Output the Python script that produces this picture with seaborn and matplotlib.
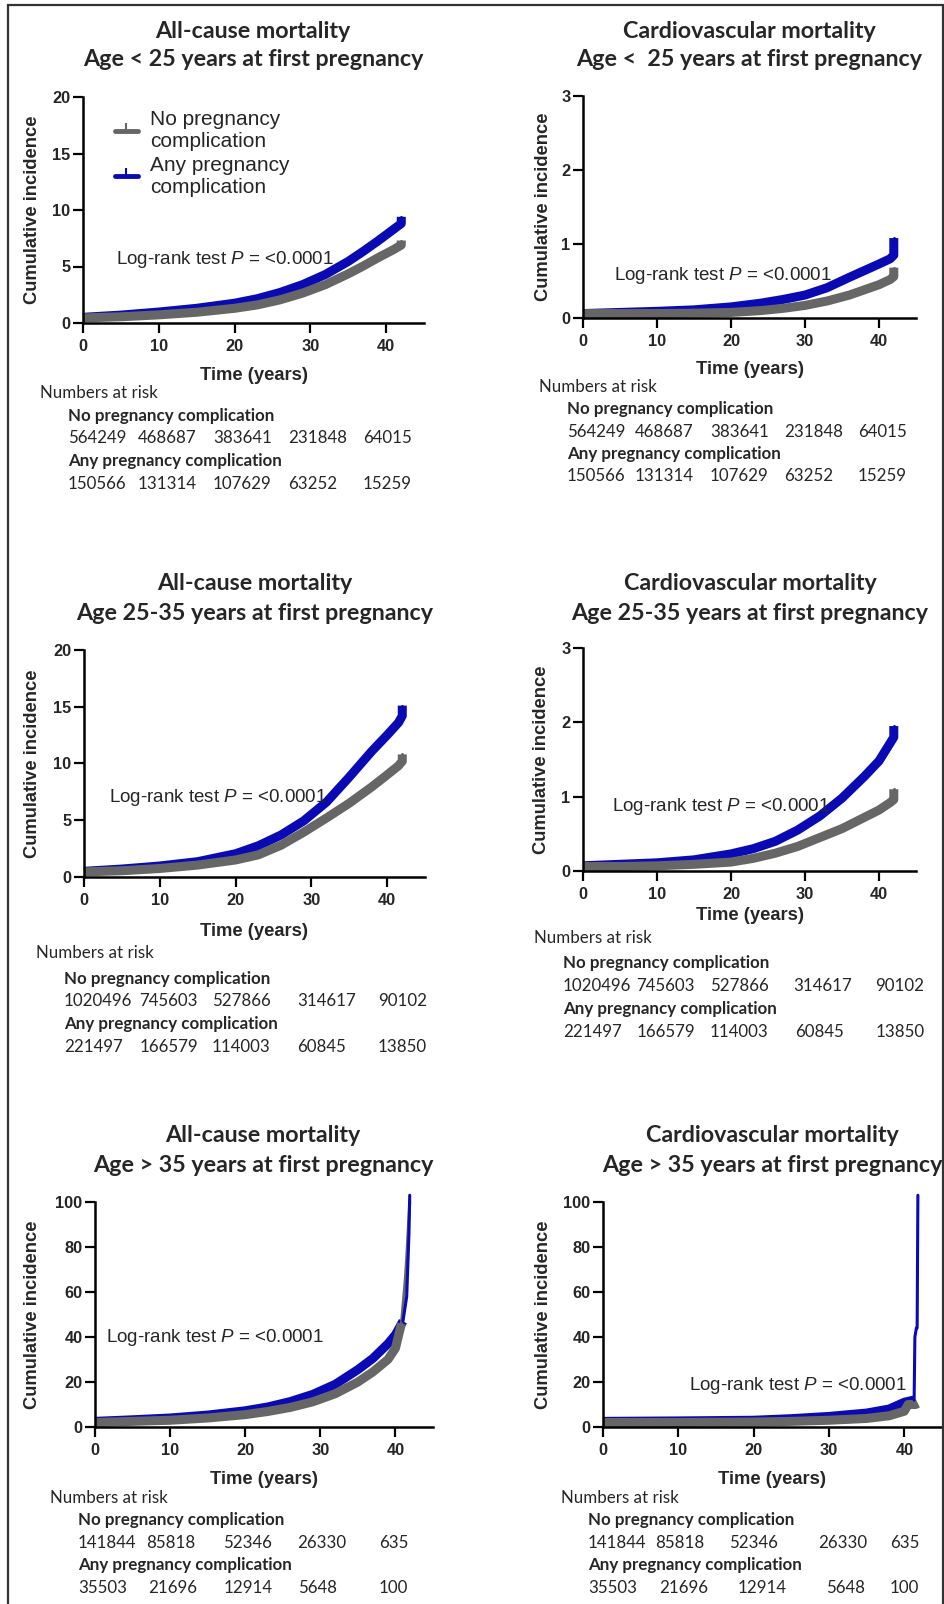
import numpy as np
import pandas as pd
import matplotlib
matplotlib.use("Agg")
import matplotlib.pyplot as plt
import seaborn as sns
from matplotlib.lines import Line2D
from matplotlib.patches import Rectangle

# ---------------- data ----------------
groups = ["No pregnancy complication", "Any pregnancy complication"]
legend_labels = ["No pregnancy\ncomplication", "Any pregnancy\ncomplication"]
x_ticks = [0, 10, 20, 30, 40]

# Panel 1: all-cause mortality, age < 25
p1_time_no = [0, 5, 10, 15, 20, 23, 26, 29, 32, 35, 37, 39, 41, 42, 42]
p1_no = [0.45, 0.55, 0.72, 0.95, 1.3, 1.6, 2.05, 2.65, 3.4, 4.35, 5.05, 5.8, 6.5, 6.9, 7.3]
p1_time_any = [0, 5, 10, 15, 20, 23, 26, 29, 32, 35, 37, 39, 41, 42, 42]
p1_any = [0.5, 0.7, 0.97, 1.3, 1.75, 2.15, 2.7, 3.4, 4.3, 5.45, 6.35, 7.3, 8.3, 8.8, 9.4]

# Panel 2: cardiovascular mortality, age < 25
p2_time_no = [0, 10, 15, 20, 24, 27, 30, 33, 36, 38, 40, 41.5, 42, 42]
p2_no = [0.06, 0.06, 0.065, 0.075, 0.1, 0.13, 0.17, 0.23, 0.31, 0.38, 0.45, 0.52, 0.56, 0.68]
p2_time_any = [0, 10, 15, 20, 24, 27, 30, 33, 36, 38, 40, 41.5, 42, 42]
p2_any = [0.06, 0.09, 0.11, 0.15, 0.2, 0.25, 0.31, 0.41, 0.55, 0.64, 0.73, 0.8, 0.85, 1.08]

# Panel 3: all-cause mortality, age 25-35
p3_time_no = [0, 5, 10, 15, 20, 23, 26, 29, 32, 35, 38, 40, 41.5, 42, 42]
p3_no = [0.45, 0.55, 0.75, 1.05, 1.5, 1.95, 2.8, 3.95, 5.2, 6.5, 7.95, 9.0, 9.8, 10.2, 10.8]
p3_time_any = [0, 5, 10, 15, 20, 23, 26, 29, 32, 35, 38, 40, 41.5, 42, 42]
p3_any = [0.5, 0.7, 0.97, 1.35, 2.05, 2.75, 3.7, 4.95, 6.6, 8.8, 11.1, 12.5, 13.6, 14.2, 15.1]

# Panel 4: cardiovascular mortality, age 25-35
p4_time_no = [0, 5, 10, 15, 20, 23, 26, 29, 32, 35, 38, 40, 41.5, 42, 42]
p4_no = [0.06, 0.06, 0.07, 0.09, 0.12, 0.17, 0.24, 0.33, 0.45, 0.57, 0.72, 0.82, 0.92, 0.96, 1.1]
p4_time_any = [0, 5, 10, 15, 20, 23, 26, 29, 32, 35, 38, 40, 41.5, 42, 42]
p4_any = [0.07, 0.09, 0.11, 0.15, 0.23, 0.3, 0.4, 0.55, 0.74, 0.98, 1.27, 1.48, 1.72, 1.8, 1.95]

# Panel 5: all-cause mortality, age > 35
p5_time_no = [0, 5, 10, 15, 20, 23, 26, 29, 32, 35, 37, 39, 40, 40.8, 41.3, 41.5, 41.9]
p5_no = [2.0, 2.5, 3.0, 4.0, 5.5, 6.9, 8.7, 11.2, 14.8, 20, 24.5, 30, 35, 46, 65, 75, 100]
p5_time_any = [0, 5, 10, 15, 20, 23, 26, 29, 32, 35, 37, 39, 40, 41, 41.5, 41.8, 41.9]
p5_any = [2.5, 3.2, 4.0, 5.3, 7.2, 8.9, 11.3, 14.5, 19, 25.5, 30.5, 37, 41, 47, 58, 86, 103]

# Panel 6: cardiovascular mortality, age > 35
p6_time_no = [0, 10, 20, 25, 30, 35, 38, 40, 40.5, 41.5, 41.8]
p6_no = [2.0, 2.0, 2.2, 2.5, 3.0, 3.8, 5.0, 7.0, 10, 10, 10.5]
p6_time_any = [0, 10, 20, 25, 30, 35, 38, 40, 41.3, 41.4, 41.6, 41.7, 41.8]
p6_any = [2.5, 2.7, 3.0, 3.7, 4.7, 6.2, 8.0, 11, 12, 40, 44, 44, 103]

# numbers at risk
risk_lt25_no = ["564249", "468687", "383641", "231848", "64015"]
risk_lt25_any = ["150566", "131314", "107629", "63252", "15259"]
risk_2535_no = ["1020496", "745603", "527866", "314617", "90102"]
risk_2535_any = ["221497", "166579", "114003", "60845", "13850"]
risk_gt35_no = ["141844", "85818", "52346", "26330", "635"]
risk_gt35_any = ["35503", "21696", "12914", "5648", "100"]

titles = [
    ("All-cause mortality", "Age < 25 years at first pregnancy"),
    ("Cardiovascular mortality", "Age <  25 years at first pregnancy"),
    ("All-cause mortality", "Age 25-35 years at first pregnancy"),
    ("Cardiovascular mortality", "Age 25-35 years at first pregnancy"),
    ("All-cause mortality", "Age > 35 years at first pregnancy"),
    ("Cardiovascular mortality", "Age > 35 years at first pregnancy"),
]
y_tops = [20, 3, 20, 3, 100, 100]
y_tick_sets = [[0, 5, 10, 15, 20], [0, 1, 2, 3], [0, 5, 10, 15, 20], [0, 1, 2, 3],
               [0, 20, 40, 60, 80, 100], [0, 20, 40, 60, 80, 100]]
logrank_text = r"Log-rank test $\it{P}$ = <0.0001"

curves = [
    (p1_time_no, p1_no, p1_time_any, p1_any),
    (p2_time_no, p2_no, p2_time_any, p2_any),
    (p3_time_no, p3_no, p3_time_any, p3_any),
    (p4_time_no, p4_no, p4_time_any, p4_any),
    (p5_time_no, p5_no, p5_time_any, p5_any),
    (p6_time_no, p6_no, p6_time_any, p6_any),
]
risks = [
    (risk_lt25_no, risk_lt25_any), (risk_lt25_no, risk_lt25_any),
    (risk_2535_no, risk_2535_any), (risk_2535_no, risk_2535_any),
    (risk_gt35_no, risk_gt35_any), (risk_gt35_no, risk_gt35_any),
]

# ---------------- style / layout ----------------
sns.set_style("ticks")
plt.rcParams["font.family"] = ["Liberation Sans", "DejaVu Sans"]
plt.rcParams["mathtext.fontset"] = "custom"
plt.rcParams["mathtext.rm"] = "Liberation Sans"
plt.rcParams["mathtext.it"] = "Liberation Sans:italic"

GRAY = "#666666"
BLUE = "#0A0AB4"
palette = {groups[0]: GRAY, groups[1]: BLUE}
CAL = ["Lato", "DejaVu Sans"]

W, H = 944, 1604
fig = plt.figure(figsize=(W / 100, H / 100), dpi=100)
renderer = fig.canvas.get_renderer()


def fx(x):
    return x / W


def fy(y):
    return 1 - y / H


# axes pixel rects: x0, x1, ytop, ybottom
rects = [(83, 424, 97, 323), (583, 916, 96, 318), (84, 425, 650, 877),
         (583, 916, 648, 871), (95, 433, 1202, 1427), (603, 942, 1202, 1427)]
title_pos = [(253, 28, 57), (749, 28, 57), (255, 580, 610), (750, 580, 610),
             (263, 1133, 1163), (772, 1133, 1163)]
logrank_pos = [(116, 256, "left"), (614, 271, "left"), (109, 793, "left"),
               (612, 803, "left"), (106, 1333, "left"), (907, 1382, "right")]
xlabel_y = [372, 367, 929, 913, 1477, 1477]
ylabel_x = [33, 544, 33, 542, 33, 544]
band_end = [(42, 42), (42, 42), (42, 42), (42, 42), (40.8, 41.0), (41.8, 41.3)]
risk_layout = [
    (40, [68, 138, 213, 288, 363], [68, 138, 213, 288, 363], [391, 414, 436, 459, 482]),
    (539, [567, 635, 710, 784, 858], [567, 635, 710, 784, 858], [385, 407, 430, 452, 474]),
    (36, [64, 139, 212, 297, 378], [64, 140, 212, 297, 378], [951, 977, 999, 1022, 1045]),
    (534, [563, 636, 710, 793, 875], [563, 637, 710, 795, 876], [936, 961, 984, 1007, 1030]),
    (50, [78, 146, 223, 297, 379], [78, 148, 224, 298, 379], [1496, 1518, 1541, 1563, 1586]),
    (561, [588, 655, 729, 818, 890], [588, 659, 738, 826, 890], [1496, 1518, 1541, 1563, 1586]),
]
TXT_DY = 3  # visual centre correction for va="center"


def fitted_size(text, target_px, **kw):
    t = fig.text(0, 0, text, fontsize=10, **kw)
    w = t.get_window_extent(renderer).width
    t.remove()
    return 10 * target_px / w


title_fs = fitted_size("Age < 25 years at first pregnancy", 342, family=CAL, fontweight="bold")
risk_fs = 0.5 * (fitted_size("Numbers at risk", 123, family=CAL)
                 + fitted_size("564249", 56, family=CAL))

for i in range(6):
    x0, x1, yt, yb = rects[i]
    ax = fig.add_axes([fx(x0), fy(yb), fx(x1) - fx(x0), (yb - yt) / H])
    tn, vn, ta, va_ = curves[i]
    df = pd.DataFrame({
        "time": list(ta) + list(tn),
        "incidence": list(va_) + list(vn),
        "group": [groups[1]] * len(ta) + [groups[0]] * len(tn),
    })
    be_no, be_any = band_end[i]
    lim = df["group"].map({groups[0]: be_no, groups[1]: be_any})
    band = df[df["time"] <= lim]
    tail = df[df["time"] >= lim]
    sns.lineplot(data=band, x="time", y="incidence", hue="group", palette=palette,
                 hue_order=[groups[1], groups[0]], estimator=None, sort=False,
                 linewidth=6.5, legend=False, ax=ax, clip_on=False,
                 solid_capstyle="butt", solid_joinstyle="round")
    if tail.groupby("group").size().max() > 1:
        sns.lineplot(data=tail, x="time", y="incidence", hue="group", palette=palette,
                     hue_order=[groups[0], groups[1]], estimator=None, sort=False,
                     linewidth=2.2, legend=False, ax=ax, clip_on=False)

    ax.set_xlim(0, 45)
    ax.set_ylim(0, y_tops[i])
    ax.set_xticks(x_ticks)
    ax.set_yticks(y_tick_sets[i])
    ax.set_xticklabels([str(v) for v in x_ticks])
    ax.set_yticklabels([str(v) for v in y_tick_sets[i]])
    for side in ("top", "right"):
        ax.spines[side].set_visible(False)
    for side in ("left", "bottom"):
        ax.spines[side].set_linewidth(1.8)
        ax.spines[side].set_color("black")
    ax.tick_params(axis="both", direction="out", length=7, width=1.6, color="black",
                   labelsize=11.8)
    ax.tick_params(axis="x", pad=4.5)
    ax.tick_params(axis="y", pad=2)
    for lab in ax.get_xticklabels() + ax.get_yticklabels():
        lab.set_fontweight("bold")
    ax.set_facecolor("none")

    ax.set_ylabel("Cumulative incidence", fontsize=13.2, fontweight="bold")
    ax.set_xlabel("Time (years)", fontsize=13.2, fontweight="bold")
    ax.yaxis.label.set_va("center")
    ax.yaxis.set_label_coords((ylabel_x[i] - x0) / (x1 - x0), 0.5)
    ax.xaxis.label.set_va("center")
    ax.xaxis.set_label_coords(0.5, (yb - xlabel_y[i] - TXT_DY) / (yb - yt))

    # titles
    cx, ty1, ty2 = title_pos[i]
    fig.text(fx(cx), fy(ty1 + TXT_DY), titles[i][0], family=CAL, fontweight="bold",
             fontsize=title_fs, ha="center", va="center")
    fig.text(fx(cx), fy(ty2 + TXT_DY), titles[i][1], family=CAL, fontweight="bold",
             fontsize=title_fs, ha="center", va="center")

    # log-rank
    lx, ly, lha = logrank_pos[i]
    fig.text(fx(lx), fy(ly + 4), logrank_text, fontsize=13.5, ha=lha, va="center")

    # numbers at risk
    hx, xs1, xs2, ys = risk_layout[i]
    rn, ra = risks[i]
    fig.text(fx(hx), fy(ys[0] + 2), "Numbers at risk", family=CAL, fontsize=risk_fs,
             va="center")
    fig.text(fx(xs1[0]), fy(ys[1] + 2), groups[0], family=CAL, fontsize=risk_fs,
             fontweight="bold", va="center")
    for xx, v in zip(xs1, rn):
        fig.text(fx(xx), fy(ys[2] + 2), v, family=CAL, fontsize=risk_fs, va="center")
    fig.text(fx(xs2[0]), fy(ys[3] + 2), groups[1], family=CAL, fontsize=risk_fs,
             fontweight="bold", va="center")
    for xx, v in zip(xs2, ra):
        fig.text(fx(xx), fy(ys[4] + 2), v, family=CAL, fontsize=risk_fs, va="center")

    if i == 0:
        handles = [Line2D([], [], color=GRAY, lw=3.5, marker=2, markersize=6, markeredgewidth=1.5),
                   Line2D([], [], color=BLUE, lw=3.5, marker=2, markersize=6, markeredgewidth=1.5)]
        fig.legend(handles, legend_labels, loc="upper left",
                   bbox_to_anchor=(fx(115), fy(110)), frameon=False, fontsize=15,
                   handlelength=1.1, handletextpad=0.6, labelspacing=0.22,
                   borderpad=0, borderaxespad=0, numpoints=1)

# outer frame
fig.add_artist(Rectangle((fx(8), fy(1612)), fx(943) - fx(8), (1612 - 5) / H,
                         transform=fig.transFigure, fill=False, lw=1.6, ec="#333333"))

fig.savefig("out.png", dpi=100)
